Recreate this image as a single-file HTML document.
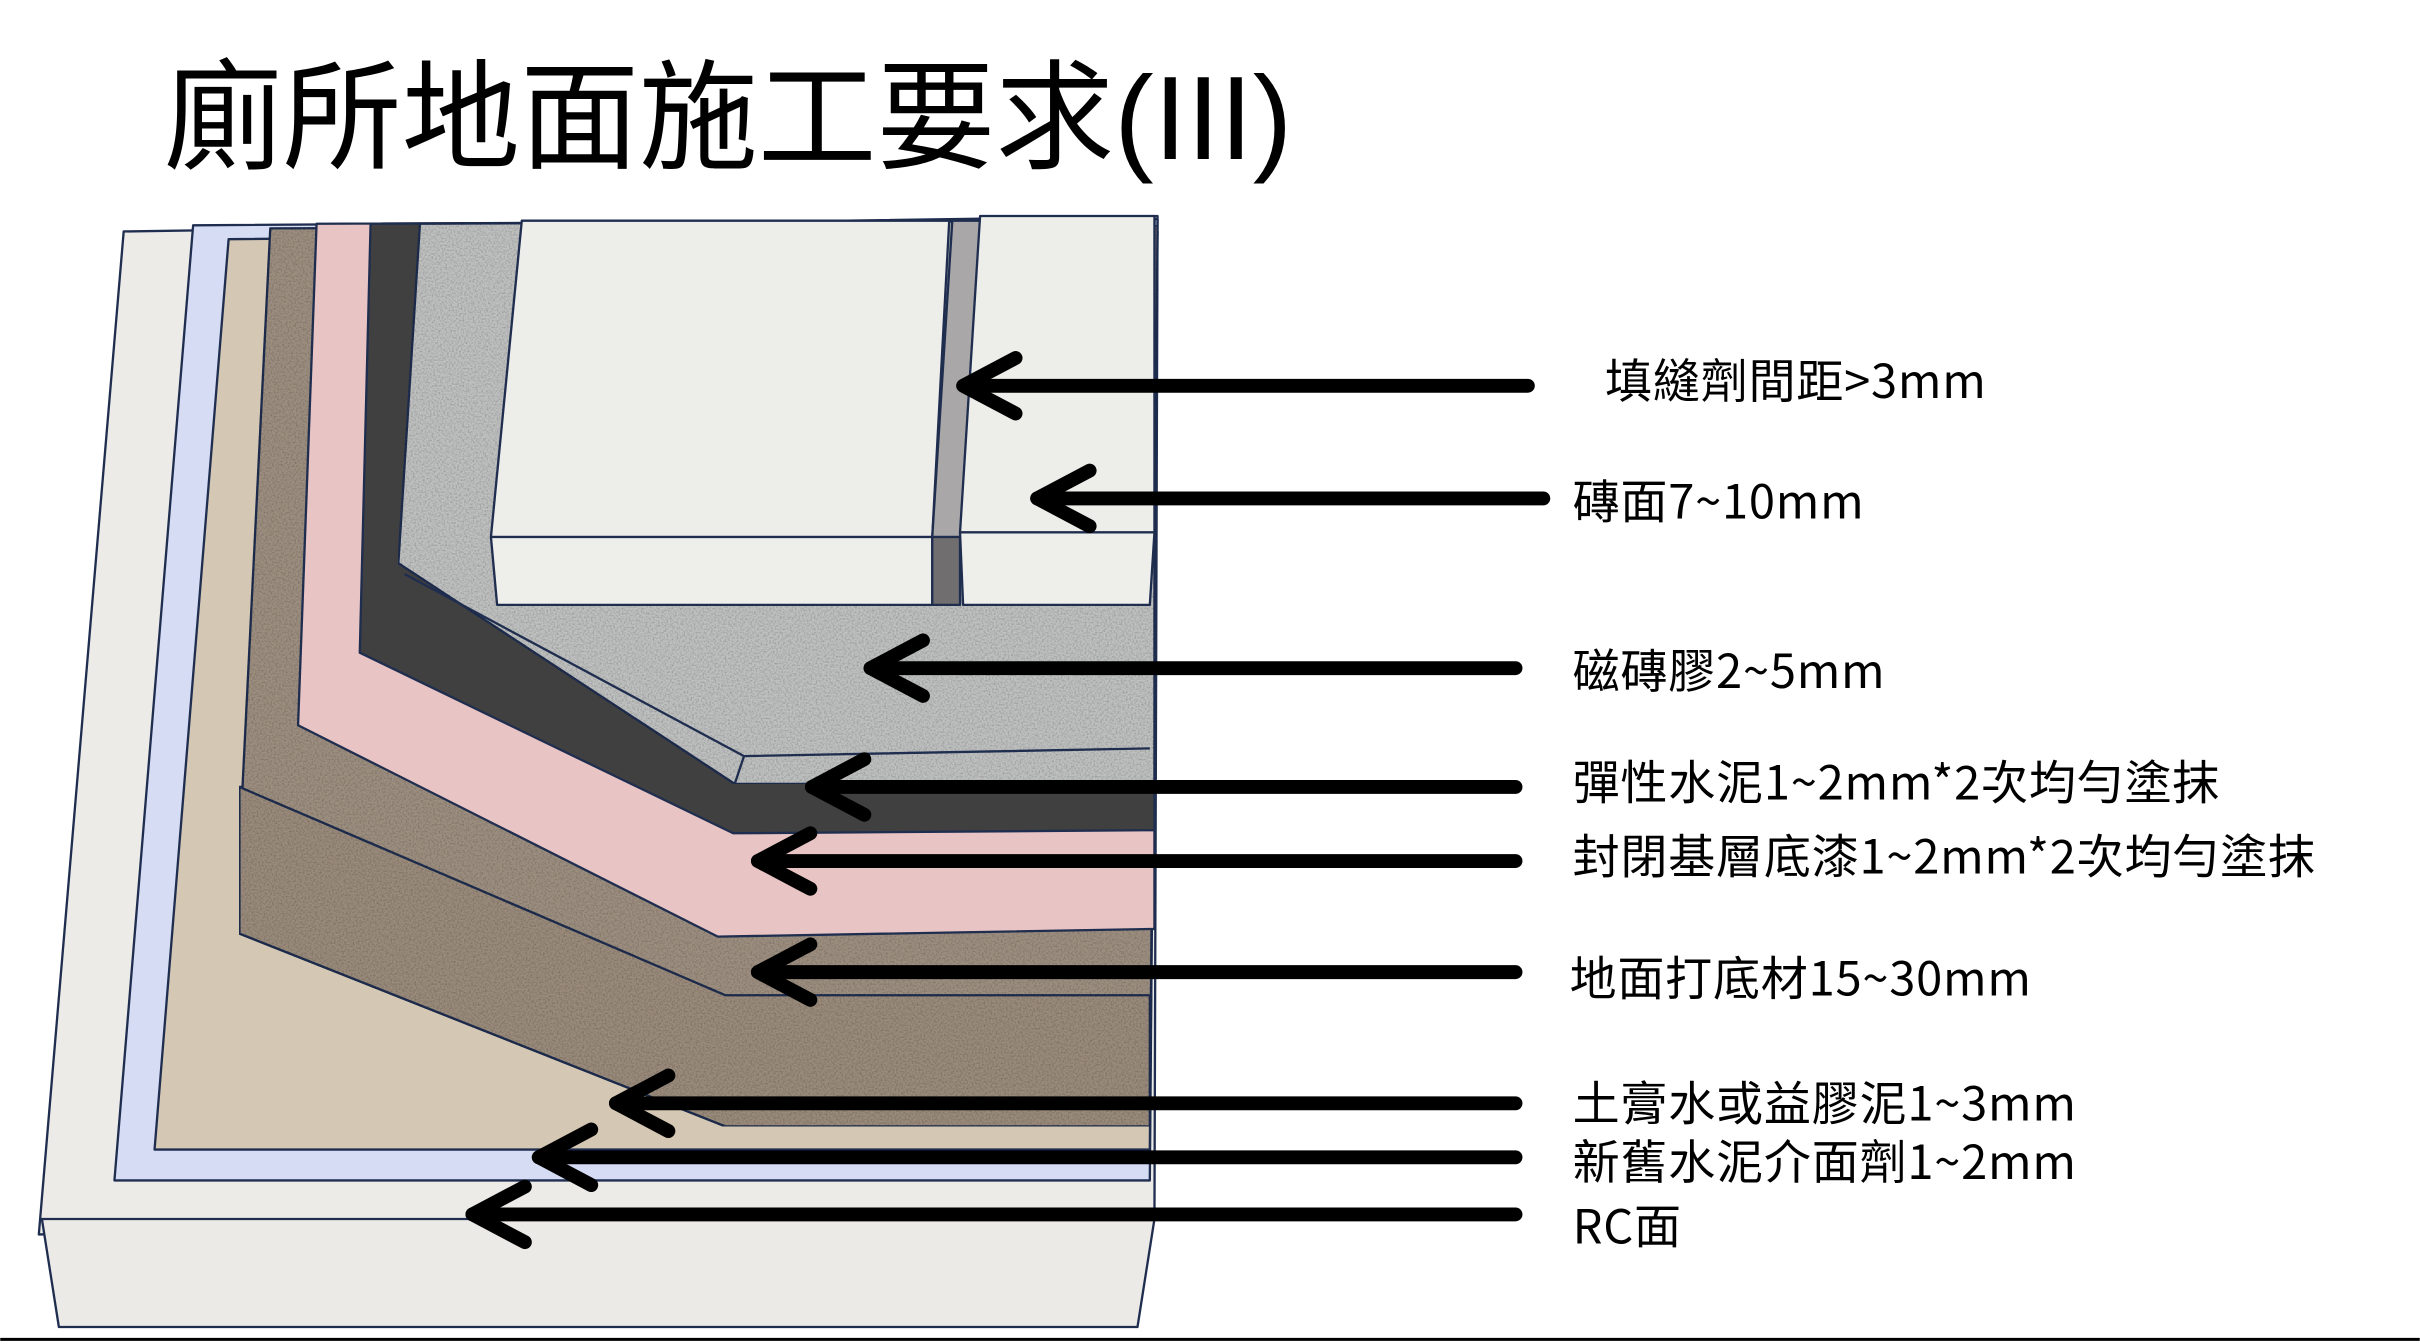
<!DOCTYPE html>
<html><head><meta charset="utf-8">
<style>
html,body{margin:0;padding:0;background:#fff;}
svg{display:block;}
text{font-family:"Liberation Sans","Noto Sans CJK TC",sans-serif;fill:#000;}
.lb text{font-family:"Noto Sans CJK TC","Liberation Sans",sans-serif;}
</style></head>
<body>
<svg width="2420" height="1344" viewBox="0 0 1568 871" xmlns="http://www.w3.org/2000/svg">
<defs>
<filter id="n1" x="0" y="0" width="100%" height="100%">
<feTurbulence type="fractalNoise" baseFrequency="0.9" numOctaves="1" seed="3"/>
<feColorMatrix values="0 0 0 0 0  0 0 0 0 0  0 0 0 0 0  0 0 0 0.9 -0.35"/>
<feComposite in2="SourceGraphic" operator="in"/>
<feBlend in="SourceGraphic" mode="multiply"/>
</filter>
</defs>
<g stroke="#1f2d4f" stroke-width="1.5" stroke-linejoin="round">
<polygon points="80,150 750,140 748,790 25,800" fill="#ecebe8"/>
<polygon points="27,790 748,790 737,860 38,860" fill="#eceae6"/>
<polygon points="125,146 750,142 745,765 74,765" fill="#d6dcf4"/>
<polygon points="148,155 750,150 745,745 100,745" fill="#d4c7b3"/>
<polygon points="175,148 750,146 745,730 470,730 155,605 155,510 157,510" fill="#9d8f80" filter="url(#n1)"/>
<polygon points="155,510 470,645 745,645 745,730 470,730 155,605" fill="#9a8b7b" filter="url(#n1)"/>
<polygon points="205,145 748,143 748,602 465,607 193,470" fill="#e8c5c4"/>
<polygon points="240,145 748,143 748,538 475,540 233,423" fill="#404040"/>
<polygon points="272,145 748,143 748,508 476,508 258,365" fill="#bfc0c0" filter="url(#n1)"/>
<polyline points="262,372 482,490 745,485" fill="none"/>
<line x1="482" y1="490" x2="476" y2="508"/>
<polygon points="338,143 615,143 604,348 318,348" fill="#ededea"/>
<polygon points="318,348 604,348 604,392 322,392" fill="#eeeeeb"/>
<polygon points="617,143 635,143 622,348 604,348" fill="#a9a7a7"/>
<polygon points="604,348 622,348 622,392 604,392" fill="#706e6e"/>
<polygon points="635,140 748,140 748,345 622,345" fill="#ededea"/>
<polygon points="622,345 748,345 745,392 624,392" fill="#eeeeeb"/>
</g>
<line x1="0" y1="868" x2="1568" y2="868" stroke="#000" stroke-width="2"/>
<g stroke="#000" stroke-width="9" stroke-linecap="round" stroke-linejoin="round" fill="none">
<line x1="990" y1="250" x2="625" y2="250"/><polyline points="658,232 624,250 658,268"/>
<line x1="1000" y1="323" x2="672" y2="323"/><polyline points="706,305 672,323 706,341"/>
<line x1="982" y1="433" x2="564" y2="433"/><polyline points="598,415 564,433 598,451"/>
<line x1="982" y1="510" x2="526" y2="510"/><polyline points="560,492 526,510 560,528"/>
<line x1="982" y1="558" x2="491" y2="558"/><polyline points="525,540 491,558 525,576"/>
<line x1="982" y1="630" x2="491" y2="630"/><polyline points="525,612 491,630 525,648"/>
<line x1="982" y1="715" x2="399" y2="715"/><polyline points="433,697 399,715 433,733"/>
<line x1="982" y1="750" x2="349" y2="750"/><polyline points="383,732 349,750 383,768"/>
<line x1="982" y1="787" x2="306" y2="787"/><polyline points="340,769 306,787 340,805"/>
</g>
<text x="106" y="103" font-size="77">廁所地面施工要求(III)</text>
<g font-size="30.5" class="lb" letter-spacing="0.5">
<text x="1040" y="258">填縫劑間距&gt;3mm</text>
<text x="1019" y="336">磚面7~10mm</text>
<text x="1019" y="446">磁磚膠2~5mm</text>
<text x="1019" y="518">彈性水泥1~2mm*2次均勻塗抹</text>
<text x="1019" y="566">封閉基層底漆1~2mm*2次均勻塗抹</text>
<text x="1017" y="645">地面打底材15~30mm</text>
<text x="1019" y="726">土膏水或益膠泥1~3mm</text>
<text x="1019" y="764">新舊水泥介面劑1~2mm</text>
<text x="1019" y="806">RC面</text>
</g>
</svg>
</body></html>
